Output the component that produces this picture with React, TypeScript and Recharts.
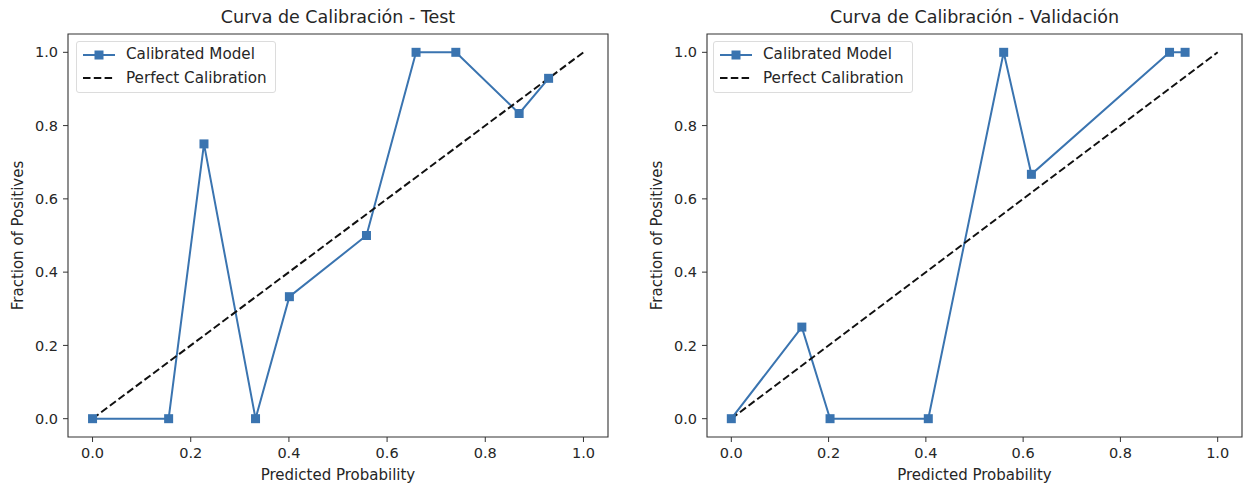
import React from "react";
import {
  LineChart,
  Line,
  XAxis,
  YAxis,
  ReferenceArea,
  Legend,
} from "recharts";

// Test split
const TEST_PRED = [0, 0.155, 0.227, 0.332, 0.401, 0.558, 0.659, 0.74, 0.869, 0.929];
const TEST_FRAC = [0, 0, 0.75, 0, 0.333, 0.5, 1, 1, 0.833, 0.929];

// Validation split
const VAL_PRED = [0, 0.145, 0.203, 0.405, 0.56, 0.617, 0.901, 0.933];
const VAL_FRAC = [0, 0.25, 0, 0, 1, 0.667, 1, 1];

const DIAG = [0, 1];
const TICKS = [0, 0.2, 0.4, 0.6, 0.8, 1.0];

const BLUE = "#3a74b0";
const FONT = "DejaVu Sans, sans-serif";
const TEXT = "#262626";
const DASH = "7.5 3.3";

const toPoints = (xs: number[], ys: number[]) => xs.map((x, i) => ({ x, y: ys[i] }));

const SquareDot = (props: any) => {
  const { cx, cy } = props;
  if (cx == null || cy == null) return null;
  return <rect x={cx - 4.5} y={cy - 4.5} width={9} height={9} fill={BLUE} />;
};

const LegendBox = () => (
  <div
    style={{
      border: "1px solid #dcdcdc",
      borderRadius: 3,
      background: "rgba(255,255,255,0.85)",
      padding: "1px 8px 2px 5px",
      fontFamily: FONT,
      fontSize: 15.2,
      color: TEXT,
      lineHeight: "23.5px",
    }}
  >
    <div style={{ display: "flex", alignItems: "center" }}>
      <svg width={34} height={12} style={{ marginRight: 10 }}>
        <line x1={1} y1={6} x2={33} y2={6} stroke={BLUE} strokeWidth={2} />
        <rect x={12.5} y={1.5} width={9} height={9} fill={BLUE} />
      </svg>
      Calibrated Model
    </div>
    <div style={{ display: "flex", alignItems: "center" }}>
      <svg width={34} height={12} style={{ marginRight: 10 }}>
        <line x1={1} y1={6} x2={33} y2={6} stroke="#111" strokeWidth={2} strokeDasharray={DASH} />
      </svg>
      Perfect Calibration
    </div>
  </div>
);

interface PanelProps {
  title: string;
  pred: number[];
  frac: number[];
  left: number;
  yAxisWidth: number;
  yLabelX: number;
  rightMargin: number;
  legendLeft: number;
}

function Panel({ title, pred, frac, left, yAxisWidth, yLabelX, rightMargin, legendLeft }: PanelProps) {
  const data = toPoints(pred, frac);
  const diag = toPoints(DIAG, DIAG);
  const width = 620;
  const plotCenter = yAxisWidth + (width - yAxisWidth - rightMargin) / 2;
  return (
    <div style={{ position: "absolute", left, top: 0, width, height: 487 }}>
      <div
        style={{
          position: "absolute",
          top: 7,
          left: plotCenter - 250,
          width: 500,
          textAlign: "center",
          fontFamily: FONT,
          fontSize: 17.5,
          color: TEXT,
        }}
      >
        {title}
      </div>
      <LineChart
        width={width}
        height={487}
        margin={{ top: 34, right: rightMargin, left: 0, bottom: 0 }}
      >
        <XAxis
          type="number"
          dataKey="x"
          domain={[-0.05, 1.05]}
          ticks={TICKS}
          allowDataOverflow
          tickFormatter={(v: number) => v.toFixed(1)}
          tick={{ fill: TEXT, fontSize: 14.5, fontFamily: FONT }}
          tickLine={{ stroke: "#333" }}
          tickSize={5}
          tickMargin={6}
          axisLine={false}
          height={50}
          label={{
            content: (p: any) => (
              <text
                x={p.viewBox.x + p.viewBox.width / 2}
                y={p.viewBox.y + 43}
                textAnchor="middle"
                fill={TEXT}
                fontSize={15}
                fontFamily={FONT}
              >
                Predicted Probability
              </text>
            ),
          }}
        />
        <YAxis
          type="number"
          dataKey="y"
          domain={[-0.05, 1.05]}
          ticks={TICKS}
          allowDataOverflow
          tickFormatter={(v: number) => v.toFixed(1)}
          tick={{ fill: TEXT, fontSize: 14.5, fontFamily: FONT }}
          tickLine={{ stroke: "#333" }}
          tickSize={5}
          tickMargin={5}
          axisLine={false}
          width={yAxisWidth}
          label={{
            content: (p: any) => {
              const cy = p.viewBox.y + p.viewBox.height / 2;
              return (
                <text
                  x={yLabelX}
                  y={cy}
                  transform={`rotate(-90 ${yLabelX} ${cy})`}
                  textAnchor="middle"
                  dominantBaseline="central"
                  fill={TEXT}
                  fontSize={15}
                  fontFamily={FONT}
                >
                  Fraction of Positives
                </text>
              );
            },
          }}
        />
        <ReferenceArea
          x1={-0.05}
          x2={1.05}
          y1={-0.05}
          y2={1.05}
          fill="none"
          stroke="#333"
          strokeWidth={1.1}
          ifOverflow="visible"
        />
        <Line
          data={data}
          dataKey="y"
          type="linear"
          stroke={BLUE}
          strokeWidth={2}
          dot={<SquareDot />}
          activeDot={false}
          isAnimationActive={false}
        />
        <Line
          data={diag}
          dataKey="y"
          type="linear"
          stroke="#111"
          strokeWidth={2}
          strokeDasharray={DASH}
          dot={false}
          activeDot={false}
          isAnimationActive={false}
        />
        <Legend
          layout="vertical"
          align="center"
          verticalAlign="middle"
          content={() => <LegendBox />}
          wrapperStyle={{ position: "absolute", left: legendLeft, top: 41, width: "auto" }}
        />
      </LineChart>
    </div>
  );
}

export default function App() {
  return (
    <div style={{ position: "absolute", left: 0, top: 0, width: 1245, height: 487, background: "#fff" }}>
      <Panel
        title="Curva de Calibración - Test"
        pred={TEST_PRED}
        frac={TEST_FRAC}
        left={0}
        yAxisWidth={68}
        yLabelX={18}
        rightMargin={12}
        legendLeft={76}
      />
      <Panel
        title="Curva de Calibración - Validación"
        pred={VAL_PRED}
        frac={VAL_FRAC}
        left={625}
        yAxisWidth={82}
        yLabelX={32}
        rightMargin={3}
        legendLeft={88}
      />
    </div>
  );
}
